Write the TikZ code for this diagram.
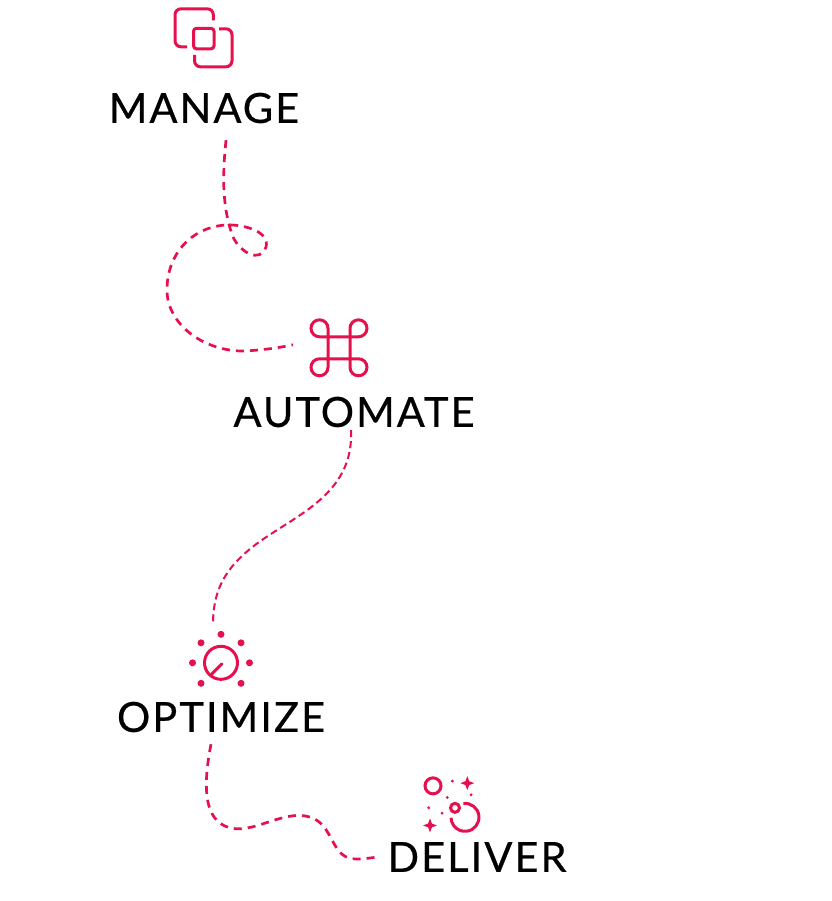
\documentclass[tikz,border=0pt]{standalone}
\usepackage{fontspec}
\setmainfont{Lato}
\newfontfamily\stagefont[LetterSpace=5,FakeBold=0.5]{Lato}
\usetikzlibrary{positioning,shapes.geometric}
\definecolor{pinkline}{HTML}{E6104F}

\begin{document}
\begin{tikzpicture}[x=1pt,y=-1pt]
    \tikzset{
      stage/.style={
        inner sep=0pt,
        outer sep=0pt,
        text=black,
        font=\stagefont\fontsize{41.5}{42}\selectfont
      },
      icon/.style={
        inner sep=0pt,
        outer sep=0pt,
        minimum size=60pt
      },
      iconline/.style={draw=pinkline, line width=3pt},
      link/.style={draw=pinkline, line width=2.7pt, dash pattern=on 8pt off 6pt},
      thinlink/.style={link, line width=2pt, dash pattern=on 7pt off 4pt},
      knobdot/.style={circle, fill=pinkline, inner sep=0pt, minimum size=7pt},
      speck/.style={circle, fill=pinkline, inner sep=0pt, minimum size=3.2pt},
      sparkle/.style={star, star points=4, star point ratio=2.6, fill=pinkline,
        inner sep=0pt, minimum size=14pt}
    };
    \useasboundingbox (0,0) rectangle (831,901);

    \node [stage] (manage) at (204,108) {MANAGE};
    \node [stage] (automate) at (354,412) {AUTOMATE};
    \node [stage] (optimize) at (221,717) {OPTIMIZE};
    \node [stage] (deliver) at (477,857) {DELIVER};

    \node [icon, above=25pt of manage] (manageicon) {};
    \node [icon, above=19pt of automate, xshift=-15pt] (automateicon) {};
    \node [icon, above=9pt of optimize] (optimizeicon) {};
    \node [icon, above=8pt of deliver, xshift=-27pt] (delivericon) {};

    % squares
    \begin{scope}[shift={(manageicon.center)}]
      \draw [iconline, rounded corners=6pt] (9.3,-17.3) -- (9.3,-29) -- (-29,-29) -- (-29,9) -- (-17,9);
      \draw [iconline, rounded corners=6pt] (15,-9) -- (28,-9) -- (28,29) -- (-9.5,29) -- (-9.5,17);
      \draw [iconline, rounded corners=3pt] (-10.5,-9.5) rectangle (10,11);
    \end{scope}

    % command key
    \foreach \turn in {0,90,180,270} {
      \begin{scope}[shift={(automateicon.center)}, rotate=\turn]
        \draw [iconline] (0,-11) -- (-19.5,-11) arc[start angle=90, end angle=360, radius=8.5] -- (-11,0);
      \end{scope}
    }

    % knob
    \begin{scope}[shift={(optimizeicon.center)}]
      \draw [iconline] (0,0) circle (16.5);
      \draw [iconline, line cap=round] (-9.5,11.5) -- (1,1);
    \end{scope}
    \foreach \i/\px/\py in {1/0/-28.5,2/-20/-20,3/20/-20,4/-28.5/0,5/28.5/0,6/-20/20.5,7/20/20.5}
      \node [knobdot] (knob\i) at ([shift={(\px,\py)}]optimizeicon.center) {};

    % bubbles
    \begin{scope}[shift={(delivericon.center)}]
      \draw [iconline] (-17,-18.3) circle (8);
      \draw [iconline] (5,3.7) circle (4.5);
      \draw [iconline] (13.3,-0.7) arc[start angle=-97, end angle=178, radius=14];
    \end{scope}
    \node [sparkle] (sparkone) at ([shift={(17.3,-21)}]delivericon.center) {};
    \node [sparkle] (sparktwo) at ([shift={(-20,21.3)}]delivericon.center) {};
    \foreach \i/\px/\py in {1/2.3/-23,2/-2.7/-6.7,3/21/-9.3,4/-21.3/3.7,5/-8/9}
      \node [speck] (speck\i) at ([shift={(\px,\py)}]delivericon.center) {};

    \coordinate [below right=17pt and 22pt of manage.south] (manageout);
    \coordinate [left=16pt of automateicon.west, yshift=3pt] (automatein);
    \coordinate [below=3pt of automate.south, xshift=-3pt] (automateout);
    \coordinate [above=8pt of optimizeicon.north, xshift=-8pt] (optimizein);
    \coordinate [below left=12pt and 10pt of optimize.south] (optimizeout);
    \coordinate [left=10pt of deliver.west] (deliverin);

    \path [link] (manageout) .. controls (223,170) and (221,205) .. (233,237)
      .. controls (240,252) and (260,264) .. (266,247)
      .. controls (270,232) and (245,224) .. (225,225)
      .. controls (190,228) and (167,255) .. (167,290)
      .. controls (167,325) and (205,352) .. (245,351)
      .. controls (262,350) and (278,348) .. (automatein);

    \path [thinlink] (automateout) .. controls (354,495) and (295,515) .. (255,545)
      .. controls (225,568) and (213,590) .. (optimizein);

    \path [link] (optimizeout) .. controls (205,775) and (202,810) .. (220,823)
      .. controls (245,842) and (280,808) .. (310,817)
      .. controls (335,825) and (330,860) .. (357,859)
      .. controls (364,859) and (370,858) .. (deliverin);
  \end{tikzpicture}
\end{document}
